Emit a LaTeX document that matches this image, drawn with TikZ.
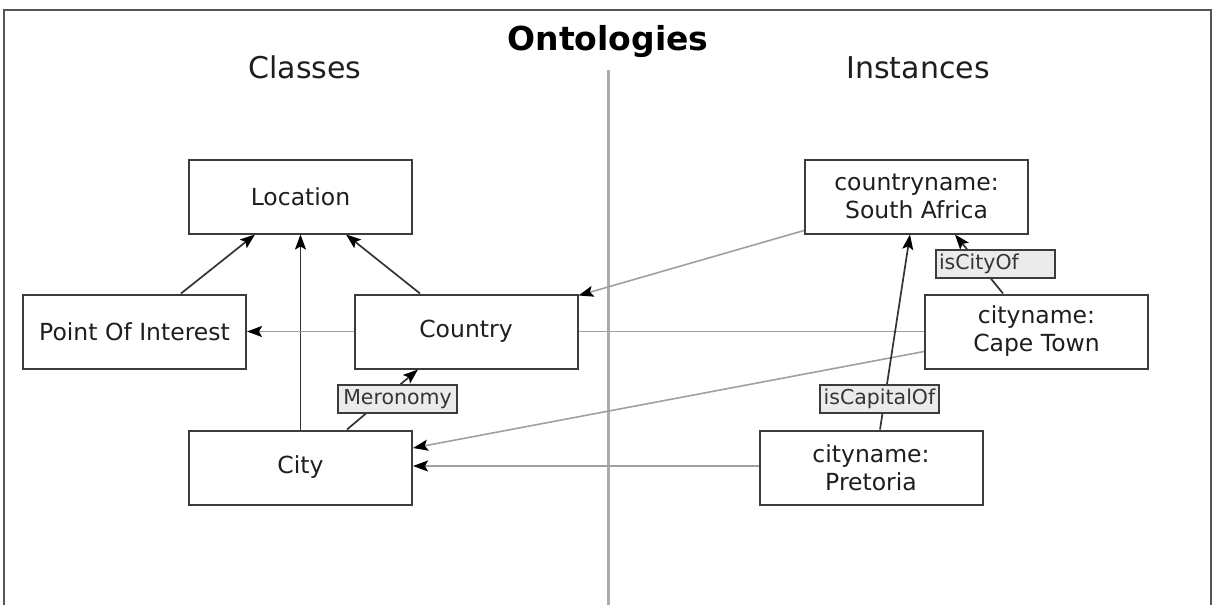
\documentclass[tikz,border=0pt]{standalone}
\usepackage{fontspec}
\setmainfont{DejaVu Sans}
\usetikzlibrary{arrows.meta}
\definecolor{frameline}{HTML}{555555}
\definecolor{boxline}{HTML}{3C3C3C}
\definecolor{linkgray}{HTML}{A0A0A0}
\definecolor{dividergray}{HTML}{ABABAB}
\definecolor{labelfill}{HTML}{EBEBEB}
\definecolor{inkdark}{HTML}{1E1E1E}

\begin{document}
\begin{tikzpicture}[x=1pt,y=-1pt,
  cls/.style={draw=boxline, line width=2pt, fill=white, minimum width=223pt,
    minimum height=74pt, inner sep=0pt, align=center, text=inkdark,
    font=\fontsize{23.5}{28}\selectfont},
  rel/.style={draw=boxline, line width=1.7pt, fill=labelfill, minimum width=119pt,
    minimum height=28pt, inner sep=2pt, text=inkdark!90,
    font=\fontsize{20.5}{24}\selectfont},
  tip/.style={-{Stealth[length=15pt,width=11pt,inset=3pt,color=black]}},
  isa/.style={tip, line width=1.7pt, draw=black!80},
  link/.style={tip, line width=1.6pt, draw=linkgray},
  plainlink/.style={line width=1.6pt, draw=linkgray},
  heading/.style={text=inkdark, anchor=base, font=\fontsize{30}{36}\selectfont},
]
\useasboundingbox (0,0) rectangle (1214,605);

% outer frame, open at the bottom
\draw[frameline, line width=2.2pt] (4,605) -- (4,10) -- (1211,10) -- (1211,605);

% headings and the divider between the two halves
\node[anchor=base, text=black, font=\bfseries\fontsize{33}{38}\selectfont] (title) at (608,50) {Ontologies};
\node[heading] (classes) at (305,78) {Classes};
\node[heading] (instances) at (918,78) {Instances};
\coordinate (divtop) at (608,70);
\coordinate (divbot) at (608,605);
\draw[dividergray, line width=3pt] (divtop) -- (divbot);

% class boxes
\node[cls] (loc) at (300.5,196.5) {Location};
\node[cls] (poi) at (134.5,331.5) {Point Of Interest};
\node[cls] (country) at (466,331.5) {Country};
\node[cls] (city) at (300.5,467.5) {City};

% instance boxes
\node[cls] (sa) at (916.5,196.5) {countryname:\\South Africa};
\node[cls] (ct) at (1036.5,331.5) {cityname:\\Cape Town};
\node[cls] (pta) at (871,467.5) {cityname:\\Pretoria};

% class hierarchy
\draw[isa] ([xshift=46.5pt]poi.north) -- ([xshift=-45.5pt]loc.south);
\draw[isa] (city.north) -- (loc.south);
\draw[isa] ([xshift=-46pt]country.north) -- ([xshift=45.5pt]loc.south);
\draw[link] (country.west) -- (poi.east);
\draw[isa] ([xshift=46.5pt]city.north) -- ([xshift=-48pt]country.south);

% instance-of links
\draw[link] ([yshift=4pt]sa.south west) -- ([yshift=-2pt]country.north east);
\draw[plainlink] (country.east) -- (ct.west);
\draw[link] ([yshift=-20pt]ct.west) -- ([yshift=19.5pt]city.east);
\draw[link] ([yshift=1.5pt]pta.west) -- ([yshift=1.5pt]city.east);

% relations between instances
\draw[isa] ([xshift=9pt]pta.north) -- ([xshift=-6.5pt]sa.south);
\draw[isa] ([xshift=-33.5pt]ct.north) -- ([xshift=38.5pt]sa.south);

% relation labels
\node[rel] (mero) at (397.5,399) {Meronomy};
\node[rel] (capital) at (879.5,399) {isCapitalOf};
\node[rel, text width=113pt, align=left] (cityof) at (995.5,264) {isCityOf};
\end{tikzpicture}
\end{document}
